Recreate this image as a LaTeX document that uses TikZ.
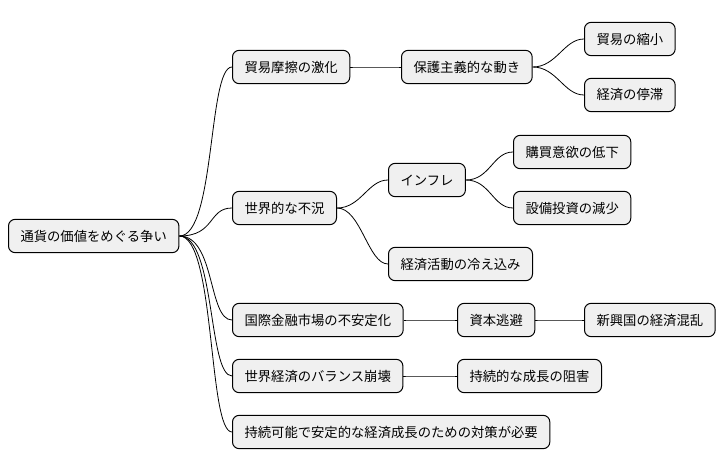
\documentclass[tikz,border=0pt]{standalone}
\usepackage{fontspec}
\setmainfont{Noto Sans CJK JP}
\usetikzlibrary{positioning}

\begin{document}
\begin{tikzpicture}[x=0.75pt,y=-0.75pt,
	topic/.style={draw, rounded corners=5pt, fill=black!6, line width=0.75pt,
		inner xsep=9pt, minimum height=25pt, anchor=west, font=\fontsize{10}{12}\selectfont},
	branch/.style={line width=0.6pt}
]
	\useasboundingbox (0,0) rectangle (726,471);
	\node[topic] (root) at (8,236) {通貨の価値をめぐる争い};
	\node[topic] (trade) at (232,67) {貿易摩擦の激化};
	\node[topic] (protect) at (401,67) {保護主義的な動き};
	\node[topic] (shrink) at (584,39) {貿易の縮小};
	\node[topic] (stagn) at (584,95) {経済の停滞};
	\node[topic] (recess) at (232,208) {世界的な不況};
	\node[topic] (infl) at (388,180) {インフレ};
	\node[topic] (buy) at (513,152) {購買意欲の低下};
	\node[topic] (invest) at (513,208) {設備投資の減少};
	\node[topic] (chill) at (388,264) {経済活動の冷え込み};
	\node[topic] (market) at (232,320) {国際金融市場の不安定化};
	\node[topic] (flight) at (457,320) {資本逃避};
	\node[topic] (emerg) at (584,320) {新興国の経済混乱};
	\node[topic] (balance) at (232,376) {世界経済のバランス崩壊};
	\node[topic] (growth) at (457,376) {持続的な成長の阻害};
	\node[topic] (measure) at (232,432) {持続可能で安定的な経済成長のための対策が必要};
	% root branches
	\foreach \c in {trade,recess,market,balance,measure}
		\draw[branch] (root.east) .. controls +(36,0) and +(-24,0) .. (\c.west);
	% other branches
	\foreach \p/\c in {trade/protect,protect/shrink,protect/stagn,recess/infl,recess/chill,
		infl/buy,infl/invest,market/flight,flight/emerg,balance/growth}
		\draw[branch] (\p.east) .. controls +(24,0) and +(-20,0) .. (\c.west);
\end{tikzpicture}
\end{document}
